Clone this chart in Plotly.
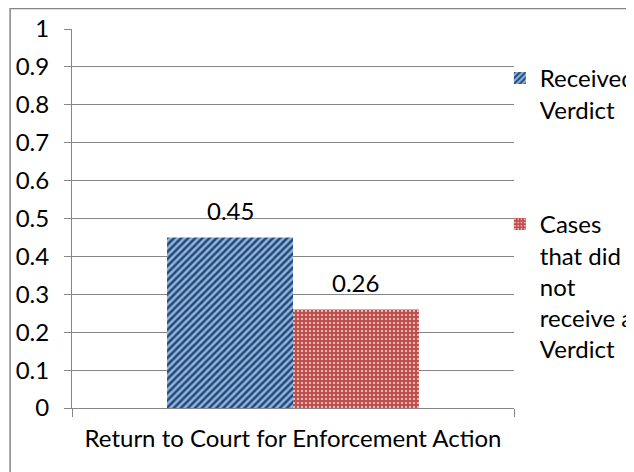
import plotly.graph_objects as go

categories = ["Return to Court for Enforcement Action"]
series_names = ["Received<br>Verdict", "Cases<br>that did<br>not<br>receive a<br>Verdict"]
received = [0.45]
not_received = [0.26]
y_ticks = [0, 0.1, 0.2, 0.3, 0.4, 0.5, 0.6, 0.7, 0.8, 0.9, 1]
y_ticklabels = ["0", "0.1", "0.2", "0.3", "0.4", "0.5", "0.6", "0.7", "0.8", "0.9", "1"]

FONT = "Lato"
FS = 24
GRAY = "#868686"
BARGAP = 0.43

fig = go.Figure()
fig.add_trace(go.Bar(
    x=categories, y=received, name=series_names[0],
    marker=dict(color="#95B3D7", line=dict(width=0),
                pattern=dict(shape="/", fgcolor="#1F497D", bgcolor="#95B3D7",
                             size=5, solidity=0.5, fillmode="replace")),
    legend="legend",
))
fig.add_trace(go.Bar(
    x=categories, y=not_received, name=series_names[1],
    marker=dict(color="#C0504D", line=dict(width=0),
                pattern=dict(shape=".", fgcolor="#F2DCDB", bgcolor="#C0504D",
                             size=4, solidity=0.2, fillmode="replace")),
    legend="legend2",
))

# data labels above each bar, placed from the data values
annotations = []
for k, series in enumerate([received, not_received]):
    for i, v in enumerate(series):
        annotations.append(dict(
            x=i + (k - 0.5) * (1 - BARGAP) / 2, y=v, xref="x", yref="y",
            text=f"{v:.2f}", showarrow=False, yanchor="middle", yshift=27,
            font=dict(family=FONT, size=FS, color="black"),
        ))

fig.update_layout(
    width=634, height=472,
    margin=dict(l=64, r=128, t=21, b=72, autoexpand=False),
    paper_bgcolor="white", plot_bgcolor="white",
    font=dict(family=FONT, size=FS, color="black"),
    barmode="group", bargap=BARGAP, bargroupgap=0,
    showlegend=True,
    legend=dict(x=0.968, y=0.929, xanchor="left", yanchor="top", valign="top",
                bgcolor="rgba(0,0,0,0)", font=dict(family=FONT, size=FS),
                itemclick=False, tracegroupgap=0),
    legend2=dict(x=0.968, y=0.5435, xanchor="left", yanchor="top", valign="top",
                 bgcolor="rgba(0,0,0,0)", font=dict(family=FONT, size=FS),
                 itemclick=False, tracegroupgap=0),
    xaxis=dict(
        type="category", range=[-0.5, 0.5],
        showline=True, linecolor=GRAY, linewidth=1,
        ticks="outside", tickson="boundaries", ticklen=8, tickcolor=GRAY,
        showgrid=False, ticklabelstandoff=9,
        tickfont=dict(family=FONT, size=FS),
    ),
    yaxis=dict(
        range=[0, 1], tickvals=y_ticks, ticktext=y_ticklabels,
        showline=True, linecolor=GRAY, linewidth=1,
        ticks="outside", ticklen=7, tickcolor=GRAY,
        showgrid=True, gridcolor=GRAY, gridwidth=1,
        zeroline=False, ticklabelstandoff=10,
        tickfont=dict(family=FONT, size=FS),
    ),
    annotations=annotations,
    shapes=[dict(type="rect", xref="paper", yref="paper",
                 x0=-0.140, x1=1.6, y0=-0.6, y1=1.054,
                 line=dict(color=GRAY, width=1.5), fillcolor="rgba(0,0,0,0)",
                 layer="below")],
)

fig.write_html("out.html")
